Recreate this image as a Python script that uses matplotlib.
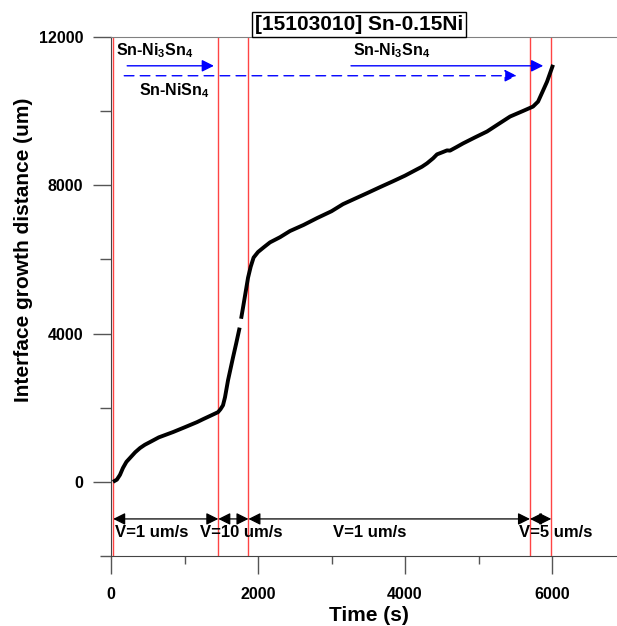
import matplotlib
matplotlib.use("Agg")
import matplotlib.pyplot as plt
from matplotlib.ticker import MultipleLocator

plt.rcParams["font.family"] = ["Liberation Sans", "DejaVu Sans"]
plt.rcParams["mathtext.fontset"] = "custom"
plt.rcParams["mathtext.rm"] = "Liberation Sans:bold"
plt.rcParams["mathtext.bf"] = "Liberation Sans:bold"
plt.rcParams["mathtext.it"] = "Liberation Sans:bold"
plt.rcParams["mathtext.default"] = "bf"

# Data (segment before the small gap, then after it)
time_a = [27, 80, 122, 163, 210, 258, 330, 395, 460, 531, 650, 844, 1000, 1170, 1252, 1360,
          1456, 1490, 1524, 1551, 1592, 1660, 1705, 1750]
dist_a = [0, 60, 188, 376, 540, 644, 800, 913, 1000, 1074, 1200, 1343, 1470, 1611, 1690, 1790,
          1880, 1960, 2067, 2282, 2739, 3356, 3750, 4160]
time_b = [1770, 1796, 1830, 1864, 1900, 1940, 2000, 2080, 2163, 2300, 2435, 2620, 2803,
          3000, 3156, 3320, 3483, 3660, 3837, 4000, 4163, 4230, 4299, 4381, 4435, 4520, 4571,
          4612, 4700, 4789, 4950, 5116, 5270, 5429, 5600, 5741, 5810, 5870, 5932, 6014]
dist_b = [4400, 4699, 5100, 5504, 5800, 6050, 6200, 6330, 6460, 6600, 6766, 6930, 7115,
          7300, 7491, 7640, 7787, 7950, 8109, 8260, 8431, 8500, 8592, 8726, 8834, 8900, 8941,
          8935, 9030, 9129, 9290, 9451, 9650, 9854, 10000, 10123, 10257, 10520, 10794, 11250]

vlines = [30, 1460, 1870, 5700, 5990]
velocity_labels = ["V=1 um/s", "V=10 um/s", "V=1 um/s", "V=5 um/s"]
velocity_label_x = [50, 1211, 3020, 5551]
xticks = [0, 2000, 4000, 6000]
yticks = [0, 4000, 8000, 12000]

fig = plt.figure(figsize=(6.17, 6.26), dpi=100)
ax = fig.add_axes([111 / 617, 70 / 626, 506 / 617, 519 / 626])
ax.set_xlim(0, 6884)
ax.set_ylim(-2000, 12000)

# Red boundary lines
for xv in vlines:
    ax.axvline(xv, color="#ff4444", lw=1.0, zorder=1)

# Curve
ax.plot(time_a, dist_a, color="black", lw=2.8, zorder=3, solid_capstyle="butt",
        solid_joinstyle="round")
ax.plot(time_b, dist_b, color="black", lw=2.8, zorder=3, solid_capstyle="butt",
        solid_joinstyle="round")

# Blue arrows
akw = dict(color="blue", lw=1.0, mutation_scale=18, shrinkA=0, shrinkB=0)
ax.annotate("", xy=(1400, 11223), xytext=(220, 11223),
            arrowprops=dict(arrowstyle="-|>", **akw))
ax.annotate("", xy=(5520, 10955), xytext=(180, 10955),
            arrowprops=dict(arrowstyle="-|>", ls=(0, (7, 4.5)), **akw))
ax.annotate("", xy=(5880, 11223), xytext=(3265, 11223),
            arrowprops=dict(arrowstyle="-|>", **akw))

ax.text(70, 11620, r"Sn-Ni$_3$Sn$_4$", fontsize=11.5, fontweight="bold", ha="left", va="center")
ax.text(380, 10560, r"Sn-NiSn$_4$", fontsize=11.5, fontweight="bold", ha="left", va="center")
ax.text(3290, 11620, r"Sn-Ni$_3$Sn$_4$", fontsize=11.5, fontweight="bold", ha="left", va="center")

# Velocity double arrows
for i in range(len(vlines) - 1):
    ax.annotate("", xy=(vlines[i], -1000), xytext=(vlines[i + 1], -1000),
                arrowprops=dict(arrowstyle="<|-|>", color="black", lw=0.9,
                                mutation_scale=18, shrinkA=0, shrinkB=0))
for lx, lab in zip(velocity_label_x, velocity_labels):
    ax.text(lx, -1370, lab, fontsize=12, fontweight="bold", ha="left", va="center")

# Title box
ax.text((359 - 111) / 506, 1.0 + 3 / 519, "[15103010] Sn-0.15Ni", transform=ax.transAxes,
        fontsize=15, fontweight="bold", ha="center", va="bottom",
        bbox=dict(boxstyle="square,pad=0.15", fc="white", ec="black", lw=1.0), zorder=5)

# Axes styling
ax.spines["right"].set_visible(False)
ax.spines["top"].set_color("#808080")
ax.spines["left"].set_color("#444444")
ax.spines["bottom"].set_color("#444444")
ax.set_xticks(xticks)
ax.set_yticks(yticks)
ax.xaxis.set_minor_locator(MultipleLocator(1000))
ax.yaxis.set_minor_locator(MultipleLocator(2000))
ax.tick_params(axis="y", which="major", direction="out", length=13, width=1, color="#555555", pad=7)
ax.tick_params(axis="y", which="minor", direction="out", length=8, width=1, color="#555555")
ax.tick_params(axis="x", which="major", direction="out", length=13, width=1, color="#555555", pad=9)
ax.tick_params(axis="x", which="minor", direction="out", length=6, width=1, color="#555555")
ax.tick_params(top=False, right=False, which="both")
for lab in ax.get_xticklabels() + ax.get_yticklabels():
    lab.set_fontweight("bold")
    lab.set_fontsize(11.5)
ax.set_xlabel("Time (s)", fontsize=15, fontweight="bold")
ax.set_ylabel("Interface growth distance (um)", fontsize=15, fontweight="bold")
ax.xaxis.set_label_coords((369 - 111) / 506, -50 / 519)
ax.yaxis.set_label_coords(-78 / 506, (556 - 250) / 519)

fig.savefig("out.png", dpi=100)
